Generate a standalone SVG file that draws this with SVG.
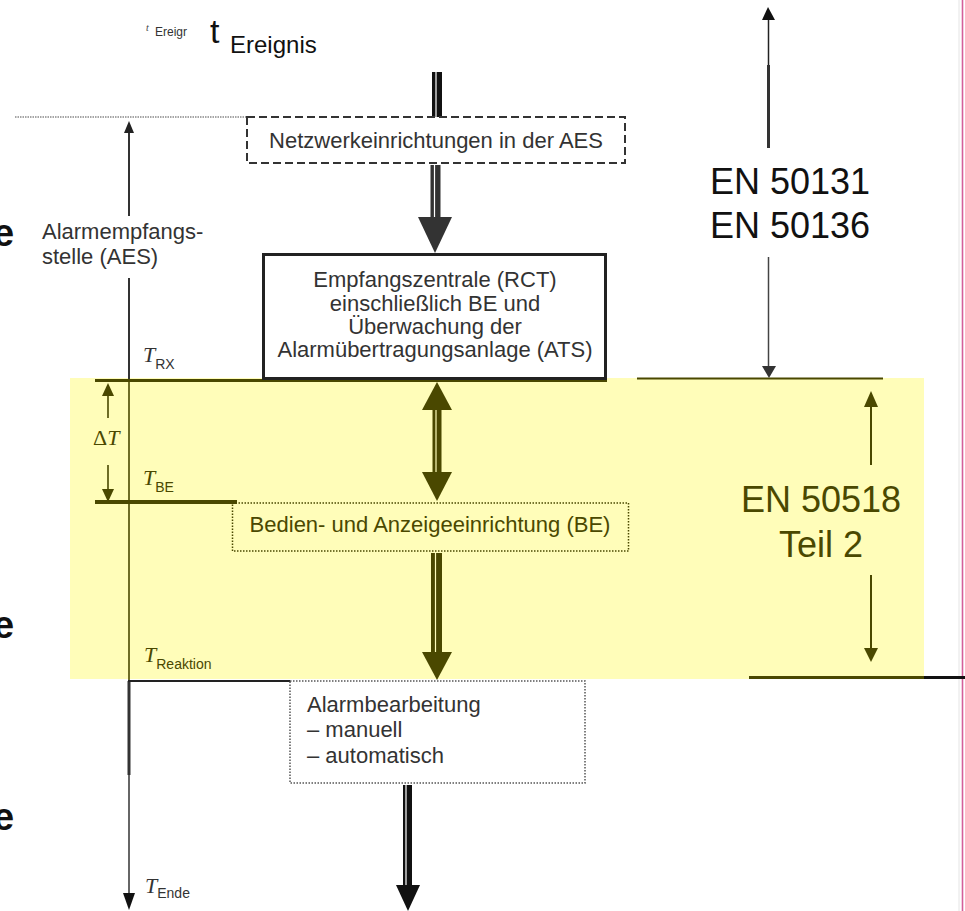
<svg xmlns="http://www.w3.org/2000/svg" width="965" height="911" viewBox="0 0 965 911">
<defs>
<style>
.s{font-family:"Liberation Sans",Arial,sans-serif;fill:#333}
.bx{font-size:22px}
.c{text-anchor:middle}
.ol{fill:#4a4800}
.tt{font-family:"Liberation Serif","Times New Roman",serif;font-style:italic;font-size:22px;fill:#333}
.sub{font-family:"Liberation Sans",Arial,sans-serif;font-style:normal;font-size:14px}
.big{font-size:36px;fill:#111}
.be{font-family:"Liberation Sans",Arial,sans-serif;font-weight:bold;font-size:38px;fill:#111}
.ln{stroke:#333;fill:none}
.lo{stroke:#4a4800;fill:none}
</style>
</defs>
<rect x="0" y="0" width="965" height="911" fill="#ffffff"/>
<rect id="band" x="70" y="378" width="854" height="301" fill="#fffdb9"/>
<line x1="959" y1="0" x2="959" y2="911" stroke="#e4e4e4" stroke-width="1"/>
<line x1="962.5" y1="0" x2="962.5" y2="911" stroke="#d4609a" stroke-width="1.6"/>

<g id="connectors">
  <line x1="15" y1="117" x2="247" y2="117" stroke="#888" stroke-width="1.5" stroke-dasharray="1.5 1"/>
  <polygon points="129,121 124,133 134,133" fill="#222"/>
  <line class="ln" x1="129" y1="133" x2="129" y2="216" stroke-width="2"/>
  <line class="ln" x1="129" y1="278" x2="129" y2="379" stroke-width="2"/>
  <line class="lo" x1="129" y1="379" x2="129" y2="680" stroke-width="1.6"/>
  <line class="ln" x1="129" y1="681" x2="129" y2="775" stroke-width="3"/>
  <line class="ln" x1="129" y1="775" x2="129" y2="894" stroke-width="1.5"/>
  <polygon points="129,910 123,893 135,893" fill="#111"/>
  <polygon points="108,383 102,396 114,396" fill="#4a4800"/>
  <line class="lo" x1="108" y1="396" x2="108" y2="418" stroke-width="1.6"/>
  <line class="lo" x1="108" y1="465" x2="108" y2="489" stroke-width="1.6"/>
  <polygon points="108,502 102,489 114,489" fill="#4a4800"/>
  <line class="lo" x1="95" y1="380.5" x2="607" y2="380.5" stroke-width="3"/>
  <line class="lo" x1="637" y1="378.5" x2="883" y2="378.5" stroke-width="2"/>
  <line class="lo" x1="95" y1="502" x2="237" y2="502" stroke-width="4"/>
  <line x1="128" y1="681" x2="290" y2="681" stroke="#222" stroke-width="2"/>
  <line class="lo" x1="749" y1="677.5" x2="924" y2="677.5" stroke-width="3"/>
  <line x1="924" y1="677.5" x2="965" y2="677.5" stroke="#111" stroke-width="3"/>
  <rect x="432" y="72" width="10" height="45" fill="#111"/>
  <line x1="436" y1="72" x2="436" y2="117" stroke="#fff" stroke-width="1.2"/>
  <rect x="430.5" y="165" width="10" height="52" fill="#333"/>
  <line x1="434.5" y1="165" x2="434.5" y2="217" stroke="#fff" stroke-width="1.2"/>
  <polygon points="418,217 452,217 435,253" fill="#333"/>
  <polygon points="437,382 422,410 452,410" fill="#4a4800"/>
  <rect x="432.5" y="410" width="9" height="62" fill="#4a4800"/>
  <line x1="436" y1="410" x2="436" y2="472" stroke="#fffdb9" stroke-width="1.2"/>
  <polygon points="437,501 422,472 452,472" fill="#4a4800"/>
  <rect x="431" y="553" width="11" height="99" fill="#4a4800"/>
  <line x1="435.5" y1="553" x2="435.5" y2="652" stroke="#fffdb9" stroke-width="1.2"/>
  <polygon points="422,652 452,652 437,680" fill="#4a4800"/>
  <rect x="403" y="785" width="9" height="100" fill="#111"/>
  <line x1="406" y1="785" x2="406" y2="885" stroke="#fff" stroke-width="1.2"/>
  <polygon points="396,885 420,885 408,911" fill="#111"/>
  <polygon points="768,7 762,20 775,20" fill="#111"/>
  <line x1="768.5" y1="20" x2="768.5" y2="65" stroke="#222" stroke-width="1.5"/>
  <line x1="768.5" y1="65" x2="768.5" y2="148" stroke="#333" stroke-width="3"/>
  <line x1="768.5" y1="257" x2="768.5" y2="367" stroke="#444" stroke-width="1.5"/>
  <polygon points="762,366 776,366 769,378" fill="#333"/>
  <polygon points="871,391 864,407 878,407" fill="#4a4800"/>
  <line class="lo" x1="871" y1="407" x2="871" y2="465" stroke-width="2"/>
  <line class="lo" x1="871" y1="575" x2="871" y2="648" stroke-width="2"/>
  <polygon points="864,648 878,648 871,662" fill="#4a4800"/>
</g>

<g id="ereignis">
  <text x="146" y="31" font-family="Liberation Serif,serif" font-style="italic" font-size="10" fill="#444">t</text>
  <text class="s" x="155" y="36" font-size="12" fill="#555">Ereigr</text>
  <text class="s" x="210" y="43" font-size="34" style="fill:#111">t</text>
  <text class="s" x="230" y="53" font-size="24" style="fill:#111">Ereignis</text>
</g>

<g id="netzwerk">
  <rect x="247" y="117" width="378" height="46" fill="#fff" stroke="#333" stroke-width="2" stroke-dasharray="8 4"/>
  <text class="s bx c" x="436" y="148">Netzwerkeinrichtungen in der AES</text>
</g>

<g id="rct">
  <rect x="263.5" y="254.5" width="342" height="124" fill="#fff" stroke="#222" stroke-width="3"/>
  <text class="s bx c" x="435" y="287">Empfangszentrale (RCT)</text>
  <text class="s bx c" x="435" y="311">einschließlich BE und</text>
  <text class="s bx c" x="435" y="334">Überwachung der</text>
  <text class="s bx c" x="435" y="357">Alarmübertragungsanlage (ATS)</text>
</g>

<g id="be">
  <rect x="232.5" y="503" width="396" height="48" fill="none" stroke="#4a4800" stroke-width="1.5" stroke-dasharray="1.5 1.5"/>
  <text class="s bx c ol" x="430" y="532">Bedien- und Anzeigeeinrichtung (BE)</text>
</g>

<g id="alarmbearbeitung">
  <rect x="290" y="681" width="295" height="102" fill="#fff" stroke="#555" stroke-width="1.5" stroke-dasharray="1.5 1.5"/>
  <text class="s bx" x="307" y="712">Alarmbearbeitung</text>
  <text class="s bx" x="307" y="737">– manuell</text>
  <text class="s bx" x="307" y="763">– automatisch</text>
</g>

<g id="aes">
  <text class="s bx" x="42" y="239">Alarmempfangs-</text>
  <text class="s bx" x="42" y="264">stelle (AES)</text>
</g>

<g id="times">
  <text class="tt" x="143" y="362">T<tspan class="sub" dy="7">RX</tspan></text>
  <text class="tt" x="93" y="445" style="fill:#4a4800"><tspan font-style="normal">Δ</tspan>T</text>
  <text class="tt" x="143" y="485" style="fill:#4a4800">T<tspan class="sub" dy="7">BE</tspan></text>
  <text class="tt" x="144" y="662" style="fill:#4a4800">T<tspan class="sub" dy="7">Reaktion</tspan></text>
  <text class="tt" x="145" y="893">T<tspan class="sub" dy="5">Ende</tspan></text>
</g>

<g id="en50131">
  <text class="s big c" x="790" y="194">EN 50131</text>
  <text class="s big c" x="790" y="238">EN 50136</text>
</g>

<g id="en50518">
  <text class="s big c ol" x="821" y="512" style="fill:#4a4800">EN 50518</text>
  <text class="s big c ol" x="821" y="557" style="fill:#4a4800">Teil 2</text>
</g>

<g id="edge-letters">
  <text class="be" x="-7" y="246">e</text>
  <text class="be" x="-7" y="638">e</text>
  <text class="be" x="-7" y="830">e</text>
</g>
</svg>
